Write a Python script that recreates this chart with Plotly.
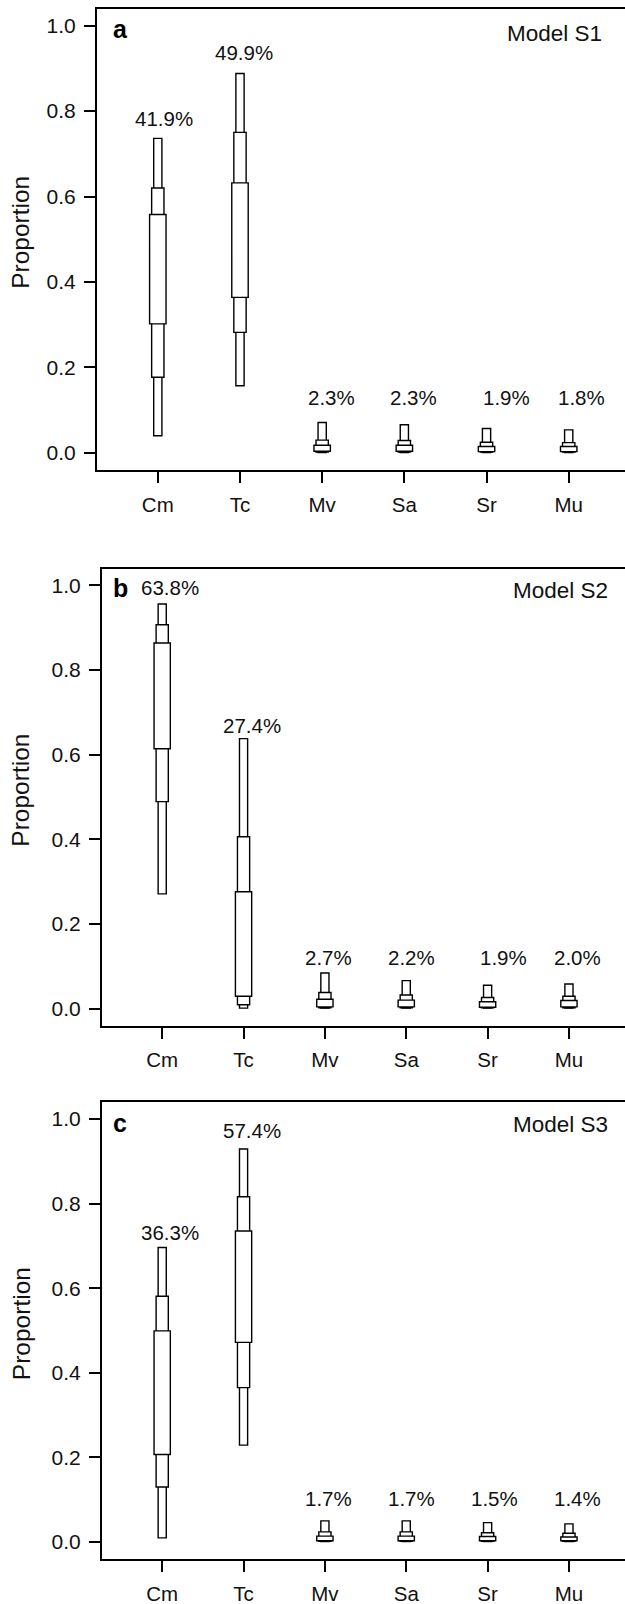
import plotly.graph_objects as go

# ---------------- data ----------------
categories = ["Cm", "Tc", "Mv", "Sa", "Sr", "Mu"]
models = ["Model S1", "Model S2", "Model S3"]
panel_letters = ["a", "b", "c"]
y_ticks = [0.0, 0.2, 0.4, 0.6, 0.8, 1.0]

# Model S1 credible intervals (95%, 75%, 50%)
s1_lo95 = [0.040, 0.157, 0.001, 0.001, 0.001, 0.001]
s1_lo75 = [0.177, 0.282, 0.002, 0.002, 0.002, 0.002]
s1_lo50 = [0.302, 0.364, 0.004, 0.004, 0.003, 0.003]
s1_hi50 = [0.558, 0.632, 0.018, 0.018, 0.015, 0.015]
s1_hi75 = [0.620, 0.750, 0.030, 0.029, 0.025, 0.024]
s1_hi95 = [0.736, 0.888, 0.071, 0.066, 0.057, 0.054]
s1_pct = ["41.9%", "49.9%", "2.3%", "2.3%", "1.9%", "1.8%"]

# Model S2
s2_lo95 = [0.271, 0.001, 0.001, 0.001, 0.001, 0.001]
s2_lo75 = [0.489, 0.009, 0.002, 0.002, 0.002, 0.002]
s2_lo50 = [0.614, 0.029, 0.004, 0.004, 0.003, 0.004]
s2_hi50 = [0.864, 0.276, 0.022, 0.020, 0.016, 0.019]
s2_hi75 = [0.907, 0.406, 0.038, 0.032, 0.026, 0.029]
s2_hi95 = [0.956, 0.638, 0.084, 0.066, 0.055, 0.058]
s2_pct = ["63.8%", "27.4%", "2.7%", "2.2%", "1.9%", "2.0%"]

# Model S3
s3_lo95 = [0.010, 0.229, 0.001, 0.001, 0.001, 0.001]
s3_lo75 = [0.130, 0.365, 0.002, 0.002, 0.002, 0.002]
s3_lo50 = [0.207, 0.472, 0.003, 0.003, 0.003, 0.003]
s3_hi50 = [0.499, 0.735, 0.014, 0.014, 0.013, 0.012]
s3_hi75 = [0.581, 0.816, 0.024, 0.024, 0.022, 0.021]
s3_hi95 = [0.696, 0.929, 0.050, 0.050, 0.046, 0.043]
s3_pct = ["36.3%", "57.4%", "1.7%", "1.7%", "1.5%", "1.4%"]

# ---------------- label placement (not data) ----------------
s1_pct_y = [0.783, 0.938, 0.130, 0.130, 0.130, 0.130]
s2_pct_y = [0.994, 0.669, 0.120, 0.120, 0.120, 0.120]
s3_pct_y = [0.732, 0.972, 0.103, 0.103, 0.103, 0.103]
s1_pct_dx = [0.075, 0.05, 0.11, 0.11, 0.24, 0.15]
s2_pct_dx = [0.09, 0.10, 0.045, 0.07, 0.20, 0.10]
s3_pct_dx = [0.09, 0.10, 0.045, 0.07, 0.09, 0.10]

panels = [
    dict(lo95=s1_lo95, lo75=s1_lo75, lo50=s1_lo50, hi50=s1_hi50, hi75=s1_hi75, hi95=s1_hi95,
         pct=s1_pct, pct_y=s1_pct_y, pct_dx=s1_pct_dx),
    dict(lo95=s2_lo95, lo75=s2_lo75, lo50=s2_lo50, hi50=s2_hi50, hi75=s2_hi75, hi95=s2_hi95,
         pct=s2_pct, pct_y=s2_pct_y, pct_dx=s2_pct_dx),
    dict(lo95=s3_lo95, lo75=s3_lo75, lo50=s3_lo50, hi50=s3_hi50, hi75=s3_hi75, hi95=s3_hi95,
         pct=s3_pct, pct_y=s3_pct_y, pct_dx=s3_pct_dx),
]

W, H = 625, 1604
FONT = "Liberation Sans, Arial, sans-serif"
TXT = "#111111"

# pixel frames (left, top, bottom) for each panel; right edge runs past the page
frames = [(97, 8.5, 470), (102, 568.5, 1025.5), (102, 1102, 1559)]
x_ranges = [[0.26, 6.685], [0.26, 6.689], [0.26, 6.689]]
model_right = [604, 610, 610]
model_y = [0.982, 0.988, 0.988]
letter_y = [0.992, 0.993, 0.99]

fig = go.Figure()
layout = dict(
    width=W, height=H, margin=dict(l=0, r=0, t=0, b=0),
    paper_bgcolor="white", plot_bgcolor="white",
    barmode="overlay", showlegend=False,
    font=dict(family=FONT, size=20, color=TXT),
)
annotations = []
xpos = list(range(1, len(categories) + 1))
widths = [0.10, 0.15, 0.20]

for i, p in enumerate(panels):
    sfx = "" if i == 0 else str(i + 1)
    xa, ya = "x" + sfx, "y" + sfx
    left, top, bottom = frames[i]
    for (lo, hi), w in zip([(p["lo95"], p["hi95"]), (p["lo75"], p["hi75"]), (p["lo50"], p["hi50"])], widths):
        fig.add_trace(go.Bar(
            x=xpos, y=[h - l for l, h in zip(lo, hi)], base=lo, width=w,
            marker=dict(color="white", line=dict(color="black", width=1.4)),
            xaxis=xa, yaxis=ya, hoverinfo="skip",
        ))
    layout["xaxis" + sfx] = dict(
        domain=[left / W, 1.0], range=x_ranges[i], anchor=ya,
        tickvals=xpos, ticktext=categories, ticks="outside", ticklen=11,
        tickwidth=1.5, tickcolor="black", showline=True, linecolor="black",
        linewidth=2, mirror=True, showgrid=False, zeroline=False,
        ticklabelstandoff=4, tickfont=dict(size=20.5, color=TXT, family=FONT),
    )
    layout["yaxis" + sfx] = dict(
        domain=[1 - bottom / H, 1 - top / H], range=[-0.04, 1.04], anchor=xa,
        tickvals=y_ticks, tickformat=".1f", ticks="outside", ticklen=11,
        tickwidth=1.5, tickcolor="black", showline=True, linecolor="black",
        linewidth=2, mirror=False, showgrid=False, zeroline=False,
        ticklabelstandoff=4, tickfont=dict(size=21, color=TXT, family=FONT),
    )
    # percentage labels
    for k in range(len(categories)):
        annotations.append(dict(
            x=xpos[k] + p["pct_dx"][k], y=p["pct_y"][k], xref=xa, yref=ya,
            text=p["pct"][k], showarrow=False, xanchor="center", yanchor="middle",
            font=dict(size=20.5, color=TXT, family=FONT),
        ))
    # panel letter
    annotations.append(dict(
        x=120 / W, y=letter_y[i], xref="paper", yref=ya, text="<b>%s</b>" % panel_letters[i],
        showarrow=False, xanchor="center", yanchor="middle",
        font=dict(size=25, color="black", family=FONT),
    ))
    # model name
    annotations.append(dict(
        x=model_right[i] / W, y=model_y[i], xref="paper", yref=ya, text=models[i],
        showarrow=False, xanchor="right", yanchor="middle",
        font=dict(size=22.5, color=TXT, family=FONT),
    ))
    # y axis title
    annotations.append(dict(
        x=21 / W, y=0.515, xref="paper", yref=ya, text="Proportion", textangle=-90,
        showarrow=False, xanchor="center", yanchor="middle",
        font=dict(size=24.5, color=TXT, family=FONT),
    ))

layout["annotations"] = annotations
fig.update_layout(**layout)
fig.write_html(
    "out.html",
    config={"displayModeBar": False},
    post_script="document.body.style.margin='0px'; document.body.style.overflow='hidden';",
)
